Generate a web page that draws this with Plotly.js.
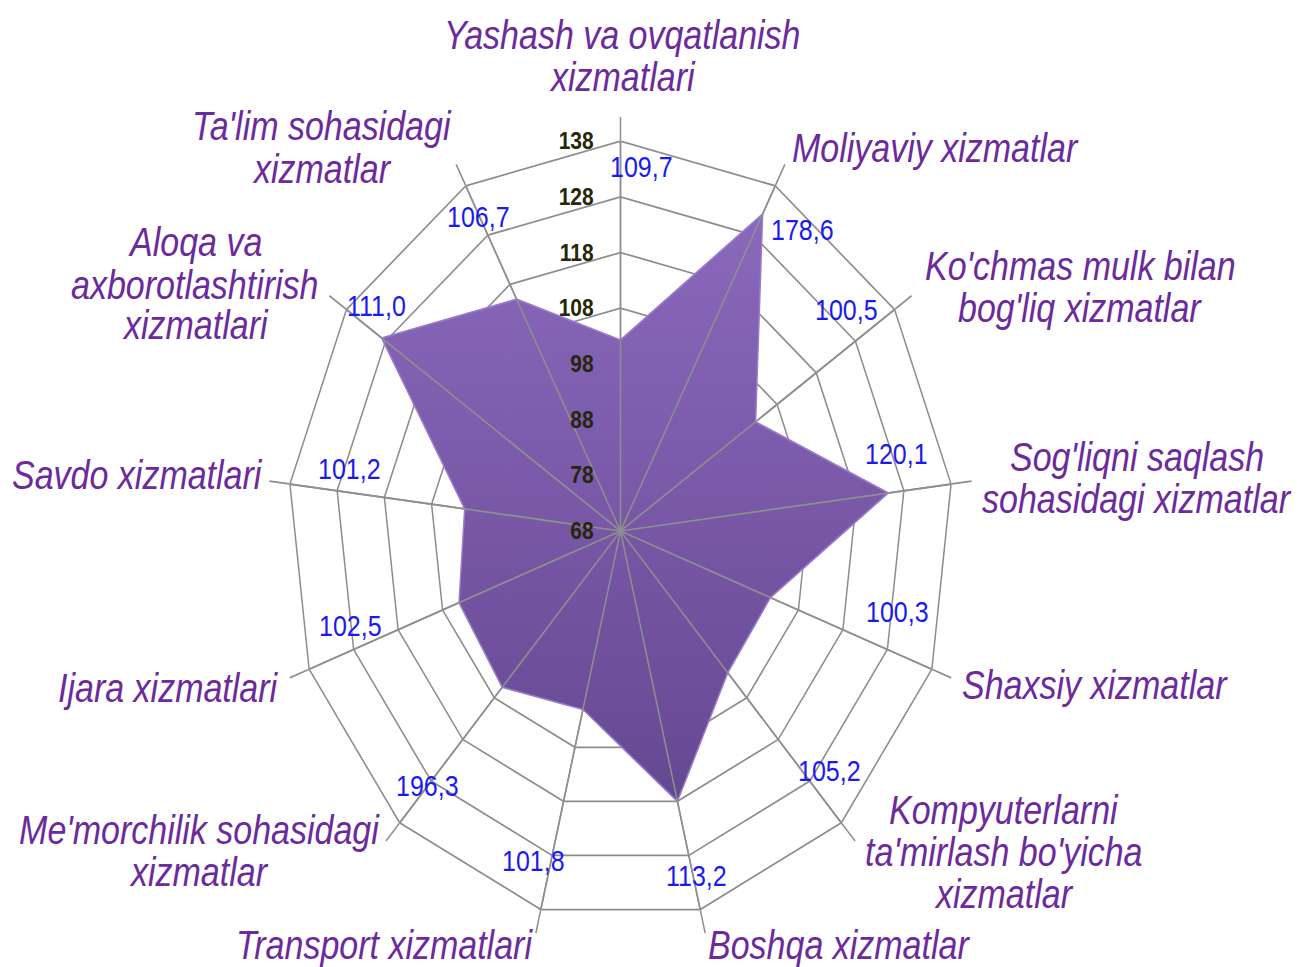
<!DOCTYPE html>
<html><head><meta charset="utf-8">
<script src="https://cdn.plot.ly/plotly-3.0.1.min.js"></script>
<style>
html,body{margin:0;padding:0;background:#fff;overflow:hidden;}
#wrap{width:1299px;height:967px;overflow:hidden;position:relative;}
#chart{width:1299px;height:826px;transform:scaleY(1.1707);transform-origin:0 0;}
</style></head><body><div id="wrap"><div id="chart"></div></div>
<script>
// ---- data ----
const categories = [
  "Yashash va ovqatlanish xizmatlari",
  "Moliyaviy xizmatlar",
  "Ko'chmas mulk bilan bog'liq xizmatlar",
  "Sog'liqni saqlash sohasidagi xizmatlar",
  "Shaxsiy xizmatlar",
  "Kompyuterlarni ta'mirlash bo'yicha xizmatlar",
  "Boshqa xizmatlar",
  "Transport xizmatlari",
  "Me'morchilik sohasidagi xizmatlar",
  "Ijara xizmatlari",
  "Savdo xizmatlari",
  "Aloqa va axborotlashtirish xizmatlari",
  "Ta'lim sohasidagi xizmatlar"
];
const categoryLines = [
  ["Yashash va ovqatlanish", "xizmatlari"],
  ["Moliyaviy xizmatlar"],
  ["Ko'chmas mulk bilan", "bog'liq xizmatlar"],
  ["Sog'liqni saqlash", "sohasidagi xizmatlar"],
  ["Shaxsiy xizmatlar"],
  ["Kompyuterlarni", "ta'mirlash bo'yicha", "xizmatlar"],
  ["Boshqa xizmatlar"],
  ["Transport xizmatlari"],
  ["Me'morchilik sohasidagi", "xizmatlar"],
  ["Ijara xizmatlari"],
  ["Savdo xizmatlari"],
  ["Aloqa va", "axborotlashtirish", "xizmatlari"],
  ["Ta'lim sohasidagi", "xizmatlar"]
];
const values = [102.3, 132.3, 102.5, 124.7, 101.7, 102.0, 118.0, 101.0, 105.5, 104.3, 101.0, 129.0, 115.0];
const dataLabels = ["109,7", "178,6", "100,5", "120,1", "100,3", "105,2", "113,2", "101,8", "196,3", "102,5", "101,2", "111,0", "106,7"];
const tickVals = [68, 78, 88, 98, 108, 118, 128, 138];

// ---- label placement (picture pixels) ----
const catLabelPos = [[622,56],[935,148],[1080,287],[1137,478],[1095,685],[1004,852],[839,945],[384,945],[199,851],[168,688],[137,475],[195,284],[322,148]];
const valLabelPos = [[641,166],[802,229],[846,309],[896,453],[897,611],[829,770],[697,876],[533,860],[427,785],[350,625],[349,468],[376,306],[478,216]];

const W = 1299, H = 826, S = 967 / 826;
const px = x => x / W;
const py = y => 1 - (y / S) / H;

const rMin = tickVals[0], rMax = tickVals[tickVals.length - 1];

const theta = categories.concat([categories[0]]);
const rClosed = values.concat([values[0]]);

const spokeTheta = [], spokeR = [];
categories.forEach(c => { spokeTheta.push(c, c, null); spokeR.push(rMin, rMax, null); });

const traces = [
  {
    type: 'scatterpolar', r: rClosed, theta: theta, mode: 'lines',
    fill: 'toself', fillcolor: '#7a5aa9',
    line: {color: '#9a7bcc', width: 1.5},
    hoverinfo: 'skip', showlegend: false
  },
  {
    type: 'scatterpolar', r: spokeR, theta: spokeTheta, mode: 'lines',
    line: {color: '#8f8f8f', width: 1.5}, connectgaps: false,
    hoverinfo: 'skip', showlegend: false
  }
];

const annotations = [];
const LINE = 42;
categoryLines.forEach((lines, i) => {
  const [cx, cy] = catLabelPos[i];
  const n = lines.length;
  lines.forEach((t, j) => {
    annotations.push({
      xref: 'paper', yref: 'paper', x: px(cx), y: py(cy + (j - (n - 1) / 2) * LINE),
      xanchor: 'center', yanchor: 'middle', showarrow: false, text: t,
      font: {family: 'Liberation Sans, Arial, sans-serif', size: 34, color: '#6c2a9c', style: 'italic'}
    });
  });
});
dataLabels.forEach((t, i) => {
  const [cx, cy] = valLabelPos[i];
  annotations.push({
    xref: 'paper', yref: 'paper', x: px(cx), y: py(cy),
    xanchor: 'center', yanchor: 'middle', showarrow: false, text: t,
    font: {family: 'Liberation Sans, Arial, sans-serif', size: 25, color: '#1a1af0'}
  });
});

const cx = 620.5, cyImg = 531, R = 333;
const cyU = cyImg / S;
const layout = {
  width: W, height: H,
  margin: {l: 0, r: 0, t: 0, b: 0},
  paper_bgcolor: '#ffffff',
  showlegend: false,
  hovermode: false,
  polar: {
    domain: {x: [(cx - R) / W, (cx + R) / W], y: [(H - cyU - R) / H, (H - cyU + R) / H]},
    bgcolor: '#ffffff',
    gridshape: 'linear',
    radialaxis: {
      range: [rMin, rMax], tickvals: tickVals, angle: 90, side: 'counterclockwise',
      tickangle: 90,
      showline: false, ticks: 'outside', ticklen: 19, tickcolor: 'rgba(0,0,0,0)',
      gridcolor: '#8c8c8c', gridwidth: 1.5,
      tickfont: {family: 'Liberation Sans, Arial, sans-serif', size: 21, color: '#26260a', weight: 'bold'},
      layer: 'above traces'
    },
    angularaxis: {
      direction: 'clockwise', rotation: 90, showticklabels: false,
      ticks: 'outside', ticklen: 20, tickcolor: '#8c8c8c', tickwidth: 1.5,
      gridcolor: '#8c8c8c', gridwidth: 1.5, showline: true, linecolor: '#8c8c8c', linewidth: 1.5
    }
  },
  annotations: annotations
};

Plotly.newPlot('chart', traces, layout, {displayModeBar: false, staticPlot: true}).then(gd => {
  // vertical shading of the filled area, as in the original
  const svg = gd.querySelector('svg.main-svg');
  const ns = 'http://www.w3.org/2000/svg';
  let defs = svg.querySelector('defs');
  if (!defs) { defs = document.createElementNS(ns, 'defs'); svg.insertBefore(defs, svg.firstChild); }
  const g = document.createElementNS(ns, 'linearGradient');
  g.setAttribute('id', 'radarFill');
  g.setAttribute('x1', '0'); g.setAttribute('y1', '0'); g.setAttribute('x2', '0'); g.setAttribute('y2', '1');
  [['0', '#8a69bc'], ['0.5', '#7858a7'], ['1', '#654892']].forEach(([o, c]) => {
    const st = document.createElementNS(ns, 'stop');
    st.setAttribute('offset', o); st.setAttribute('stop-color', c);
    g.appendChild(st);
  });
  defs.appendChild(g);
  const fillPath = gd.querySelector('.scatterlayer .trace path.js-fill');
  if (fillPath) fillPath.style.fill = 'url(#radarFill)';
});
</script></body></html>
